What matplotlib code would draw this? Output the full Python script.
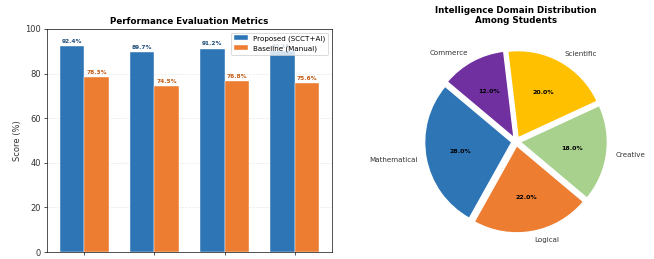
import numpy as np
import matplotlib
matplotlib.use('Agg')
import matplotlib.pyplot as plt

# bar chart data (x labels are cut off in the reference)
metrics = ['Accuracy', 'Precision', 'Recall', 'F1-Score']
proposed = [92.4, 89.7, 91.2, 90.1]
baseline = [78.3, 74.5, 76.8, 75.6]

# pie chart data
domains = ['Mathematical', 'Logical', 'Creative', 'Scientific', 'Commerce']
shares = [28, 22, 18, 20, 12]

blue = '#2E75B6'
orange = '#ED7D31'
pie_colors = [blue, orange, '#A9D18E', '#FFC000', '#7030A0']

W, H = 654, 259
dpi = 60
fig = plt.figure(figsize=(W / dpi, H / dpi), dpi=dpi)

# left: grouped bars
ax1 = fig.add_axes([47 / W, 1 - 252 / H, (332 - 47) / W, (252 - 29) / H])
x = np.arange(len(metrics))
w = 0.35
b1 = ax1.bar(x - w / 2, proposed, w, color=blue, edgecolor='white', linewidth=0.5,
             label='Proposed (SCCT+AI)')
b2 = ax1.bar(x + w / 2, baseline, w, color=orange, edgecolor='white', linewidth=0.5,
             label='Baseline (Manual)')
for bar, v in zip(b1, proposed):
    ax1.text(bar.get_x() + bar.get_width() / 2, v + 1, f'{v}%', ha='center', va='bottom',
             fontsize=7, fontweight='bold', color='#1F4E79')
for bar, v in zip(b2, baseline):
    ax1.text(bar.get_x() + bar.get_width() / 2, v + 1, f'{v}%', ha='center', va='bottom',
             fontsize=7, fontweight='bold', color='#C55A11')
ax1.set_ylim(0, 100)
ax1.set_xticks(x)
ax1.set_xticklabels([''] * len(metrics))  # labels fall below the visible crop
ax1.set_ylabel('Score (%)', fontsize=10, color='#333333')
ax1.set_title('Performance Evaluation Metrics', fontsize=10.5, fontweight='bold')
ax1.tick_params(labelsize=10, labelcolor='#333333')
ax1.grid(axis='y', linestyle='--', alpha=0.3)
ax1.set_axisbelow(True)
ax1.legend(loc='upper right', fontsize=8.5)

# right: exploded pie
r = 87
cx, cy = 516, H - 141.5
side = 2.5 * r
ax2 = fig.add_axes([(cx - side / 2) / W, (cy - side / 2) / H, side / W, side / H])
wedges, texts, autotexts = ax2.pie(shares, labels=domains, colors=pie_colors,
                                   autopct='%1.1f%%', startangle=140,
                                   explode=[0.05] * len(shares),
                                   wedgeprops=dict(edgecolor='white', linewidth=1.5),
                                   textprops=dict(fontsize=8.5, color='#333333'))
for t in autotexts:
    t.set_fontsize(7.5)
    t.set_fontweight('bold')
    t.set_color('black')
fig.text(cx / W, 1 - 6 / H, 'Intelligence Domain Distribution\nAmong Students',
         ha='center', va='top', fontsize=10.5, fontweight='bold', linespacing=1.1)

plt.savefig('out.png', dpi=dpi)
